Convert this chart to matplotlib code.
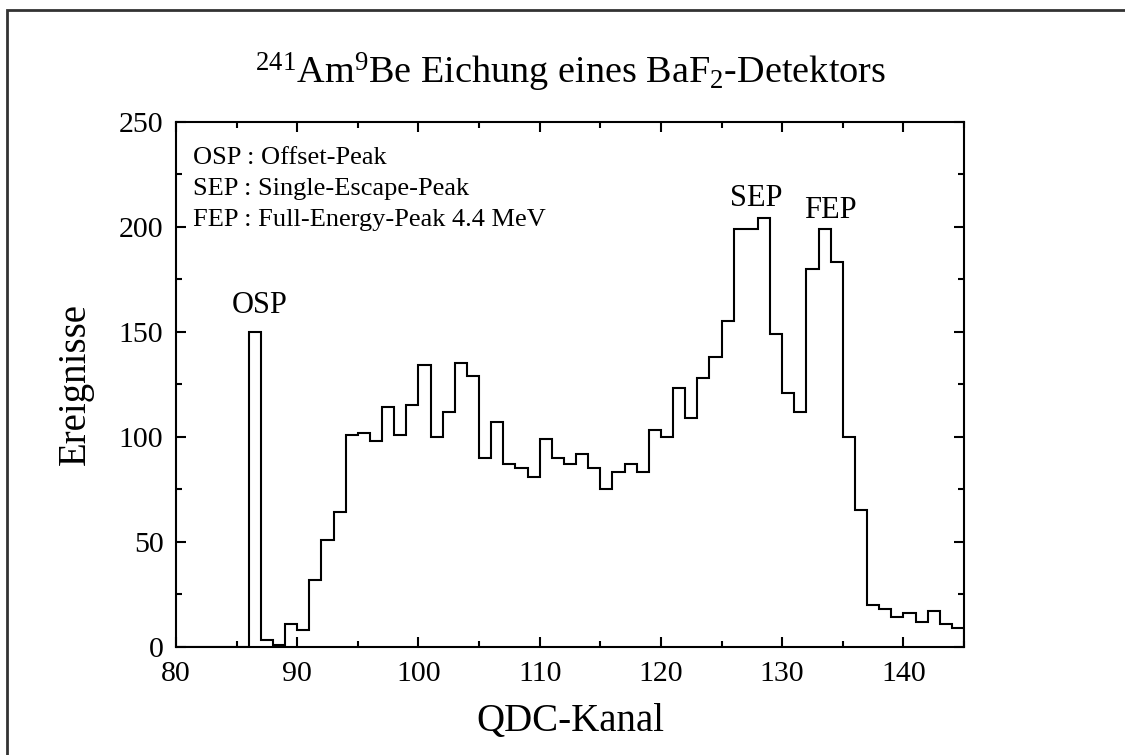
import numpy as np
import matplotlib
matplotlib.use("Agg")
import matplotlib.pyplot as plt
from matplotlib.patches import Rectangle
from matplotlib.ticker import MultipleLocator

plt.rcParams['font.family'] = ['Liberation Serif', 'DejaVu Serif']
plt.rcParams['mathtext.fontset'] = 'custom'
plt.rcParams['mathtext.rm'] = 'Liberation Serif'
plt.rcParams['mathtext.it'] = 'Liberation Serif:italic'

# Histogramm: Kanalgrenzen und Ereignisse pro Kanal (80..145)
kanal_grenzen = np.arange(80, 146)
ereignisse = [
    0, 0, 0, 0, 0, 0,            # 80-85
    150, 3, 1, 11,               # 86-89
    8, 32, 51, 64, 101, 102, 98, 114, 101, 115,   # 90-99
    134, 100, 112, 135, 129, 90, 107, 87, 85, 81,  # 100-109
    99, 90, 87, 92, 85, 75, 83, 87, 83, 103,       # 110-119
    100, 123, 109, 128, 138, 155, 199, 199, 204, 149,  # 120-129
    121, 112, 180, 199, 183, 100, 65, 20, 18, 14,  # 130-139
    16, 12, 17, 11, 9,                              # 140-144
]

peak_namen = ['OSP', 'SEP', 'FEP']
peak_x = [86.9, 127.9, 134.0]
peak_y = [159, 210, 204]

legende = ['OSP : Offset-Peak', 'SEP : Single-Escape-Peak', 'FEP : Full-Energy-Peak 4.4 MeV']

fig = plt.figure(figsize=(11.25, 7.55), dpi=100)
ax = fig.add_axes([0.1564, 0.1434, 0.7005, 0.6954])

ax.stairs(ereignisse, kanal_grenzen, color='black', linewidth=1.5)

ax.set_xlim(80, 145)
ax.set_ylim(0, 250)
ax.xaxis.set_major_locator(MultipleLocator(10))
ax.xaxis.set_minor_locator(MultipleLocator(5))
ax.yaxis.set_major_locator(MultipleLocator(50))
ax.yaxis.set_minor_locator(MultipleLocator(25))
ax.tick_params(which='both', direction='in', top=True, right=True, width=1.5, labelsize=21.5)
ax.tick_params(which='major', length=7.5)
ax.tick_params(which='minor', length=4.5)
ax.tick_params(axis='x', pad=10)
ax.tick_params(axis='y', pad=9)
for s in ax.spines.values():
    s.set_linewidth(1.5)

for n, x, y in zip(peak_namen, peak_x, peak_y):
    ax.text(x, y, n, ha='center', va='baseline', fontsize=22)

for i, t in enumerate(legende):
    ax.text(81.4, 229.8 - i * 14.8, t, ha='left', va='baseline', fontsize=19)

ax.set_xlabel('QDC-Kanal', fontsize=28, labelpad=12)
ax.set_ylabel('Ereignisse', fontsize=28, labelpad=18)

fig.text(0.507, 0.89, r'$^{241}$Am$^{9}$Be Eichung eines BaF$_{2}$-Detektors',
         ha='center', va='baseline', fontsize=27.5)

# Rahmen um die Abbildung
fig.patches.append(Rectangle((6.5 / 1125, -0.1), 1.2, 1.1 - 9.5 / 755,
                             transform=fig.transFigure, fill=False,
                             edgecolor='#333333', linewidth=2, figure=fig))

fig.savefig('out.png', dpi=100)
